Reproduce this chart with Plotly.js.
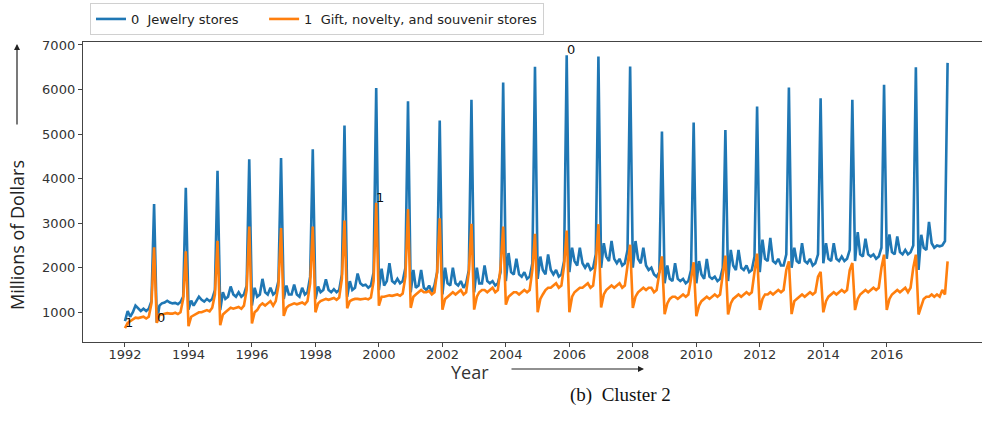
<!DOCTYPE html>
<html>
<head>
<meta charset="utf-8">
<script src="https://cdn.plot.ly/plotly-3.0.1.min.js"></script>
<style>
  html, body { margin: 0; padding: 0; background: #ffffff; }
  #chart { width: 982px; height: 428px; }
</style>
</head>
<body>
<div id="chart"></div>
<script>
// Monthly retail sales, millions of dollars, Jan 1992 – Dec 2017 (one row per year)
const startYear = 1992;

const jewelrySales = [
  800, 1029, 900, 1000, 1150, 1080, 1030, 1080, 1030, 1080, 1250, 3431,
  770, 1150, 1200, 1220, 1260, 1220, 1200, 1210, 1180, 1230, 1350, 3795,
  1060, 1260, 1150, 1250, 1350, 1280, 1240, 1300, 1250, 1300, 1500, 4174,
  1050, 1450, 1300, 1350, 1580, 1400, 1350, 1450, 1350, 1400, 1600, 4435,
  1150, 1550, 1350, 1400, 1750, 1450, 1400, 1550, 1400, 1450, 1700, 4464,
  1300, 1600, 1400, 1400, 1620, 1400, 1350, 1550, 1400, 1450, 1800, 4658,
  1300, 1580, 1450, 1500, 1740, 1500, 1450, 1520, 1450, 1500, 1850, 5193,
  1350, 1700, 1500, 1550, 1870, 1650, 1600, 1620, 1550, 1600, 1900, 6034,
  1500, 1980, 1600, 1700, 2100, 1700, 1650, 1750, 1650, 1700, 2000, 5735,
  1450, 1950, 1550, 1600, 1950, 1550, 1500, 1600, 1450, 1600, 1900, 5305,
  1400, 2000, 1650, 1600, 2000, 1650, 1600, 1700, 1550, 1650, 1950, 5773,
  1450, 2000, 1650, 1650, 2050, 1700, 1650, 1700, 1600, 1650, 1900, 6159,
  1700, 2330, 1900, 1850, 2200, 1850, 1800, 1900, 1750, 1800, 2100, 6509,
  1750, 2250, 1950, 1850, 2300, 1950, 1850, 1950, 1800, 1850, 2150, 6770,
  1900, 2450, 2150, 2050, 2450, 2100, 2000, 2100, 1950, 2000, 2300, 6740,
  2000, 2550, 2250, 2150, 2600, 2200, 2100, 2200, 2050, 2100, 2400, 6516,
  2000, 2600, 2200, 2100, 2450, 2050, 1950, 2000, 1850, 1800, 1900, 5059,
  1650, 2050, 1750, 1700, 2100, 1750, 1700, 1750, 1650, 1700, 1950, 5260,
  1650, 2150, 1850, 1750, 2200, 1800, 1750, 1800, 1700, 1750, 2000, 5089,
  1700, 2400, 2050, 1950, 2400, 2000, 1950, 2050, 1900, 1950, 2250, 5617,
  1900, 2630, 2200, 2150, 2670, 2150, 2100, 2200, 2050, 2050, 2300, 6048,
  2000, 2450, 2150, 2100, 2550, 2150, 2100, 2200, 2050, 2100, 2300, 5802,
  2100, 2550, 2200, 2150, 2550, 2200, 2150, 2250, 2150, 2200, 2400, 5773,
  2150, 2800, 2300, 2250, 2650, 2300, 2250, 2300, 2200, 2250, 2450, 6108,
  2200, 2750, 2350, 2300, 2700, 2350, 2300, 2400, 2300, 2350, 2500, 6502,
  1950, 2740, 2450, 2400, 3030, 2550, 2450, 2500, 2480, 2500, 2600, 6598
];

const giftSales = [
  643, 760, 800, 850, 880, 870, 880, 900, 860, 900, 1200, 2456,
  760, 950, 950, 970, 980, 970, 970, 990, 960, 1000, 1300, 2367,
  690, 900, 930, 970, 1000, 1000, 1030, 1050, 1020, 1100, 1400, 2606,
  710, 950, 1000, 1050, 1100, 1080, 1100, 1120, 1080, 1150, 1500, 2925,
  750, 1000, 1050, 1150, 1200, 1150, 1200, 1250, 1150, 1250, 1600, 2889,
  920, 1100, 1150, 1180, 1200, 1180, 1200, 1220, 1180, 1250, 1650, 2925,
  1000, 1200, 1250, 1280, 1300, 1280, 1300, 1320, 1280, 1330, 1750, 3059,
  1090, 1250, 1280, 1300, 1300, 1290, 1300, 1310, 1290, 1330, 1700, 3460,
  1150, 1350, 1350, 1370, 1380, 1370, 1380, 1400, 1370, 1420, 1800, 3319,
  1100, 1350, 1400, 1450, 1500, 1450, 1450, 1480, 1400, 1450, 1900, 3112,
  1060, 1300, 1350, 1400, 1450, 1400, 1450, 1500, 1400, 1450, 1900, 2985,
  1060, 1350, 1450, 1500, 1500, 1450, 1500, 1550, 1450, 1500, 2000, 2925,
  1170, 1350, 1400, 1450, 1450, 1400, 1450, 1500, 1450, 1500, 1950, 2762,
  1000, 1300, 1400, 1500, 1550, 1550, 1600, 1650, 1550, 1600, 2050, 2836,
  1000, 1350, 1450, 1500, 1550, 1550, 1600, 1650, 1550, 1600, 2100, 2977,
  1110, 1400, 1500, 1550, 1600, 1550, 1600, 1650, 1550, 1600, 2050, 2516,
  1100, 1350, 1450, 1500, 1550, 1500, 1550, 1550, 1450, 1500, 1900, 2255,
  960, 1200, 1300, 1350, 1350, 1300, 1350, 1400, 1350, 1400, 1750, 2122,
  910, 1150, 1250, 1300, 1350, 1300, 1350, 1400, 1350, 1400, 1850, 2271,
  950, 1200, 1300, 1350, 1400, 1350, 1400, 1450, 1400, 1450, 1900, 2316,
  1050, 1300, 1400, 1400, 1450, 1400, 1450, 1500, 1450, 1500, 1950, 2144,
  960, 1250, 1300, 1350, 1400, 1350, 1400, 1450, 1400, 1450, 1800, 1907,
  1000, 1250, 1350, 1400, 1450, 1400, 1450, 1500, 1450, 1500, 1950, 2107,
  1050, 1300, 1400, 1450, 1500, 1450, 1500, 1550, 1500, 1550, 2000, 2293,
  1050, 1300, 1400, 1450, 1500, 1450, 1500, 1550, 1450, 1550, 2000, 2293,
  950, 1150, 1300, 1350, 1350, 1400, 1350, 1400, 1350, 1500, 1400, 2144
];

const seriesNames = [
  '0\u00a0\u00a0Jewelry stores\u00a0\u00a0\u00a0\u00a0\u00a0',
  '1\u00a0\u00a0Gift, novelty, and souvenir stores'
];
const seriesLabels = ['0', '1'];
const seriesColors = ['#1f77b4', '#ff7f0e'];
const yTicks = [1000, 2000, 3000, 4000, 5000, 6000, 7000];
const xTickYears = [1992, 1994, 1996, 1998, 2000, 2002, 2004, 2006, 2008, 2010, 2012, 2014, 2016];

// first-of-month dates for every observation
function monthDates(n) {
  const out = [];
  for (let i = 0; i < n; i++) {
    const y = startYear + Math.floor(i / 12);
    const m = (i % 12) + 1;
    out.push(y + '-' + String(m).padStart(2, '0') + '-01');
  }
  return out;
}
const dates = monthDates(jewelrySales.length);
const seriesValues = [jewelrySales, giftSales];

const traces = seriesValues.map((vals, k) => ({
  type: 'scatter',
  mode: 'lines',
  x: dates,
  y: vals,
  name: seriesNames[k],
  line: { color: seriesColors[k], width: 2.6 },
  hoverinfo: 'skip'
}));

// label the highest and lowest month of each series with its index
const extremeNotes = [];
seriesValues.forEach((vals, k) => {
  const iMax = vals.indexOf(Math.max(...vals));
  const iMin = vals.indexOf(Math.min(...vals));
  [iMax, iMin].forEach(i => {
    extremeNotes.push({
      x: dates[i], y: vals[i], xref: 'x', yref: 'y',
      text: seriesLabels[k], showarrow: false,
      xanchor: 'left', yanchor: 'bottom', xshift: -2, yshift: -4,
      font: { family: 'DejaVu Sans', size: 13, color: '#111' }
    });
  });
});

// plot-area geometry in pixels
const W = 982, H = 428, ML = 83, MR = 0, MT = 42, MB = 86;
const PW = W - ML - MR, PH = H - MT - MB;
const px = x => (x - ML) / PW;
const py = y => (H - MB - y) / PH;

const textNotes = [
  { x: px(17), y: py(235), xref: 'paper', yref: 'paper', text: 'Millions of Dollars',
    textangle: -90, showarrow: false, xanchor: 'center', yanchor: 'middle',
    font: { family: 'Open Sans', size: 18, color: '#222' } },
  { x: px(17), y: py(44), xref: 'paper', yref: 'paper', text: '', showarrow: true,
    ax: 0, ay: 82, arrowhead: 2, arrowsize: 1, arrowwidth: 1.2, arrowcolor: '#222' },
  { x: px(470), y: py(372), xref: 'paper', yref: 'paper', text: 'Year',
    showarrow: false, xanchor: 'center', yanchor: 'middle',
    font: { family: 'Open Sans', size: 18, color: '#333' } },
  { x: px(644), y: py(369), xref: 'paper', yref: 'paper', text: '', showarrow: true,
    ax: -134, ay: 0, arrowhead: 2, arrowsize: 1, arrowwidth: 1.2, arrowcolor: '#222' },
  { x: px(620), y: py(395), xref: 'paper', yref: 'paper', text: '(b)\u00a0\u00a0Cluster 2',
    showarrow: false, xanchor: 'center', yanchor: 'middle',
    font: { family: 'Liberation Serif', size: 19, color: '#111' } }
];

const layout = {
  width: W, height: H,
  margin: { l: ML, r: MR, t: MT, b: MB, pad: 0 },
  paper_bgcolor: '#ffffff',
  plot_bgcolor: 'rgba(0,0,0,0)',
  font: { family: 'DejaVu Sans', size: 13, color: '#333' },
  showlegend: true,
  legend: {
    orientation: 'h', x: px(90), y: py(35), xanchor: 'left', yanchor: 'bottom',
    bgcolor: '#ffffff', bordercolor: '#d0d0d0', borderwidth: 1,
    font: { family: 'DejaVu Sans', size: 13, color: '#222' },
    itemwidth: 30, traceorder: 'normal'
  },
  xaxis: {
    type: 'date',
    range: ['1990-09-05', '2019-01-01'],
    tickvals: xTickYears.map(y => y + '-01-01'),
    ticktext: xTickYears.map(String),
    showgrid: false, zeroline: false,
    showline: true, linecolor: '#444', linewidth: 1.2, mirror: true,
    ticks: 'outside', ticklen: 4, tickcolor: '#444', tickwidth: 1,
    ticklabelstandoff: -4,
    tickfont: { family: 'DejaVu Sans', size: 13, color: '#333' }
  },
  yaxis: {
    range: [333, 7067],
    tickvals: yTicks, ticktext: yTicks.map(String),
    showgrid: false, zeroline: false,
    showline: true, linecolor: '#444', linewidth: 1.2, mirror: false,
    ticks: 'outside', ticklen: 4, tickcolor: '#444', tickwidth: 1,
    tickfont: { family: 'DejaVu Sans', size: 13, color: '#333' }
  },
  annotations: extremeNotes.concat(textNotes)
};

Plotly.newPlot('chart', traces, layout, { displayModeBar: false, staticPlot: true });
</script>
</body>
</html>
